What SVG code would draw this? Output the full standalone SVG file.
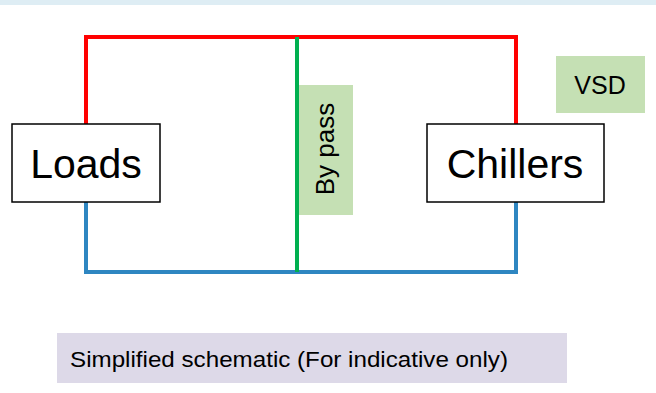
<svg xmlns="http://www.w3.org/2000/svg" width="656" height="393" viewBox="0 0 656 393">
<style>
.box{fill:#fff;stroke:#000;stroke-width:1.5}
.lbl{font-family:"Liberation Sans",Arial,sans-serif;fill:#000}
.pipe{fill:none;stroke-width:4;stroke-linejoin:miter}
.tag{fill:#c5e0b4}
</style>
<rect x="0" y="0" width="656" height="5" fill="#deedf4"/>
<g id="connectors">
<polyline class="pipe" stroke="#ff0000" points="86,124 86,37 516,37 516,124"/>
<polyline class="pipe" stroke="#2e86c1" points="86,202 86,272 516,272 516,202"/>
<line class="pipe" stroke="#00b050" x1="297" y1="37" x2="297" y2="272"/>
</g>
<g id="loads">
<rect class="box" x="12" y="124" width="148" height="78"/>
<text class="lbl" x="86" y="178" font-size="41" text-anchor="middle">Loads</text>
</g>
<g id="bypass">
<rect class="tag" x="299" y="85" width="54" height="130"/>
<text class="lbl" transform="translate(334,149) rotate(-90)" font-size="26" text-anchor="middle">By pass</text>
</g>
<g id="chillers">
<rect class="box" x="427" y="124" width="177" height="78"/>
<text class="lbl" x="515" y="178" font-size="41" text-anchor="middle">Chillers</text>
</g>
<g id="vsd">
<rect class="tag" x="556" y="56" width="89" height="57"/>
<text class="lbl" x="600" y="94" font-size="25" text-anchor="middle">VSD</text>
</g>
<g id="caption">
<rect x="57" y="333" width="510" height="50" fill="#ddd9e8"/>
<text class="lbl" x="70" y="367" font-size="22" textLength="438" lengthAdjust="spacingAndGlyphs">Simplified schematic (For indicative only)</text>
</g>
</svg>
